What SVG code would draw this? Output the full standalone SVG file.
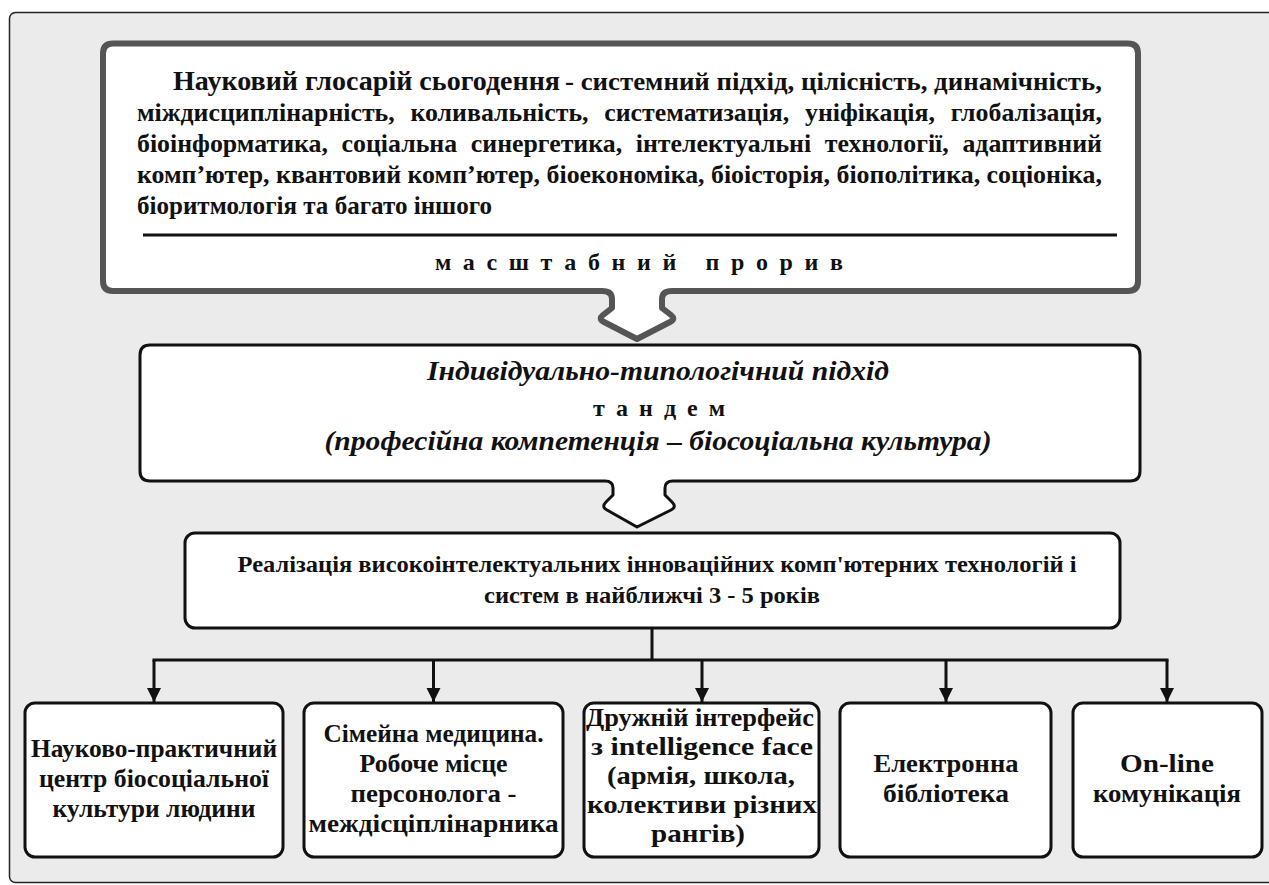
<svg xmlns="http://www.w3.org/2000/svg" width="1269" height="885" viewBox="0 0 1269 885">
<style>
  .t { font-family: "Liberation Serif", "DejaVu Serif", serif; font-weight: bold; fill: #111; }
  .it { font-style: italic; }
  .c { text-anchor: middle; }
  .box { fill: #fff; stroke: #111; stroke-width: 3; stroke-linejoin: round; }
  .con { fill: none; stroke: #111; stroke-width: 3; }
</style>
<defs>
  <marker id="ah" markerUnits="userSpaceOnUse" markerWidth="16" markerHeight="16" refX="14" refY="8" orient="auto">
    <path d="M0,1 L14,8 L0,15 Z" fill="#111"/>
  </marker>
</defs>
<rect x="0" y="0" width="1269" height="885" fill="#fff"/>
<rect x="9.5" y="12.5" width="1300" height="870" rx="6" fill="#ebebeb" stroke="#222" stroke-width="1.5"/>

<g id="node-glossary">
  <path d="M113,43.5 H1128 Q1138,43.5 1138,53.5 V281 Q1138,291 1128,291 H672 Q662,291 662,299 V308 L671,315 Q676,319 670,322 L637,339 L604,322 Q598,319 603,315 L612,308 V299 Q612,291 602,291 H113 Q103,291 103,281 V53.5 Q103,43.5 113,43.5 Z" fill="#fff" stroke="#555" stroke-width="6" stroke-linejoin="round"/>
  <text class="t" x="173" y="90" font-size="28" textLength="387" lengthAdjust="spacingAndGlyphs">Науковий глосарій сьогодення</text>
  <text class="t" x="565" y="90" font-size="25" textLength="537" lengthAdjust="spacingAndGlyphs">- системний підхід, цілісність, динамічність,</text>
  <text class="t" x="137" y="121" font-size="25" word-spacing="9" textLength="965" lengthAdjust="spacingAndGlyphs">міждисциплінарність, коливальність, систематизація, уніфікація, глобалізація,</text>
  <text class="t" x="137" y="152" font-size="25" word-spacing="7" textLength="965" lengthAdjust="spacingAndGlyphs">біоінформатика, соціальна синергетика, інтелектуальні технології, адаптивний</text>
  <text class="t" x="137" y="183" font-size="25" textLength="965" lengthAdjust="spacingAndGlyphs">комп’ютер, квантовий комп’ютер, біоекономіка, біоісторія, біополітика, соціоніка,</text>
  <text class="t" x="137" y="214" font-size="25" textLength="355" lengthAdjust="spacingAndGlyphs">біоритмологія та багато іншого</text>
  <line x1="143" y1="235" x2="1117" y2="235" stroke="#111" stroke-width="3"/>
  <text class="t" x="435" y="270" font-size="24" textLength="408" lengthAdjust="spacing">масштабний прорив</text>
</g>

<g id="node-approach">
  <path d="M150,345 H1130 Q1140,345 1140,355 V471 Q1140,481 1130,481 H673 Q665,481 665,488 V495 L672,502 Q677,507 671,510 L637,527 L607,510 Q601,507 606,502 L613,495 V488 Q613,481 605,481 H150 Q140,481 140,471 V355 Q140,345 150,345 Z" class="box"/>
  <text class="t it c" x="658" y="380" font-size="27" textLength="462" lengthAdjust="spacingAndGlyphs">Індивідуально-типологічний підхід</text>
  <text class="t c" x="659" y="416" font-size="24" textLength="132" lengthAdjust="spacing">тандем</text>
  <text class="t it c" x="658" y="450" font-size="27" textLength="667" lengthAdjust="spacingAndGlyphs">(професійна компетенція – біосоціальна культура)</text>
</g>

<g id="node-realization">
  <rect x="185" y="533" width="935" height="95" rx="10" class="box"/>
  <text class="t c" x="657" y="572" font-size="24" textLength="839" lengthAdjust="spacingAndGlyphs">Реалізація високоінтелектуальних інноваційних комп'ютерних технологій і</text>
  <text class="t c" x="652" y="603" font-size="24" textLength="336" lengthAdjust="spacingAndGlyphs">систем в найближчі 3 - 5 років</text>
</g>

<g id="connectors">
  <line x1="652" y1="628" x2="652" y2="660" class="con"/>
  <line x1="152.5" y1="660" x2="1168.5" y2="660" class="con"/>
  <line x1="154" y1="660" x2="154" y2="702" class="con" marker-end="url(#ah)"/>
  <line x1="433.5" y1="660" x2="433.5" y2="702" class="con" marker-end="url(#ah)"/>
  <line x1="702" y1="660" x2="702" y2="702" class="con" marker-end="url(#ah)"/>
  <line x1="946" y1="660" x2="946" y2="702" class="con" marker-end="url(#ah)"/>
  <line x1="1167" y1="660" x2="1167" y2="702" class="con" marker-end="url(#ah)"/>
</g>

<g id="node-center">
  <rect x="25" y="703" width="258" height="154" rx="10" class="box"/>
  <text class="t c" x="154" y="757" font-size="26" textLength="246" lengthAdjust="spacingAndGlyphs">Науково-практичний</text>
  <text class="t c" x="154" y="787" font-size="26" textLength="230" lengthAdjust="spacingAndGlyphs">центр біосоціальної</text>
  <text class="t c" x="154" y="817" font-size="26" textLength="203" lengthAdjust="spacingAndGlyphs">культури людини</text>
</g>

<g id="node-family-medicine">
  <rect x="304" y="703" width="259" height="154" rx="10" class="box"/>
  <text class="t c" x="433.5" y="742" font-size="26" textLength="220" lengthAdjust="spacingAndGlyphs">Сімейна медицина.</text>
  <text class="t c" x="433.5" y="772" font-size="26" textLength="148" lengthAdjust="spacingAndGlyphs">Робоче місце</text>
  <text class="t c" x="433.5" y="802" font-size="26" textLength="166" lengthAdjust="spacingAndGlyphs">персонолога -</text>
  <text class="t c" x="433.5" y="832" font-size="26" textLength="250" lengthAdjust="spacingAndGlyphs">междісціплінарника</text>
</g>

<g id="node-interface">
  <rect x="584" y="703" width="235" height="154" rx="10" class="box"/>
  <text class="t c" x="700" y="726" font-size="26" textLength="228" lengthAdjust="spacingAndGlyphs">Дружній інтерфейс</text>
  <text class="t c" x="702" y="755" font-size="26" textLength="222" lengthAdjust="spacingAndGlyphs">з intelligence face</text>
  <text class="t c" x="701" y="784" font-size="26" textLength="188" lengthAdjust="spacingAndGlyphs">(армія, школа,</text>
  <text class="t c" x="702" y="813" font-size="26" textLength="230" lengthAdjust="spacingAndGlyphs">колективи різних</text>
  <text class="t c" x="698" y="842" font-size="26" textLength="94" lengthAdjust="spacingAndGlyphs">рангів)</text>
</g>

<g id="node-library">
  <rect x="840" y="703" width="211" height="154" rx="10" class="box"/>
  <text class="t c" x="946" y="772" font-size="26" textLength="145" lengthAdjust="spacingAndGlyphs">Електронна</text>
  <text class="t c" x="946" y="802" font-size="26" textLength="126" lengthAdjust="spacingAndGlyphs">бібліотека</text>
</g>

<g id="node-online">
  <rect x="1073" y="703" width="189" height="154" rx="10" class="box"/>
  <text class="t c" x="1167" y="772" font-size="26" textLength="94" lengthAdjust="spacingAndGlyphs">On-line</text>
  <text class="t c" x="1167" y="802" font-size="26" textLength="148" lengthAdjust="spacingAndGlyphs">комунікація</text>
</g>
</svg>
